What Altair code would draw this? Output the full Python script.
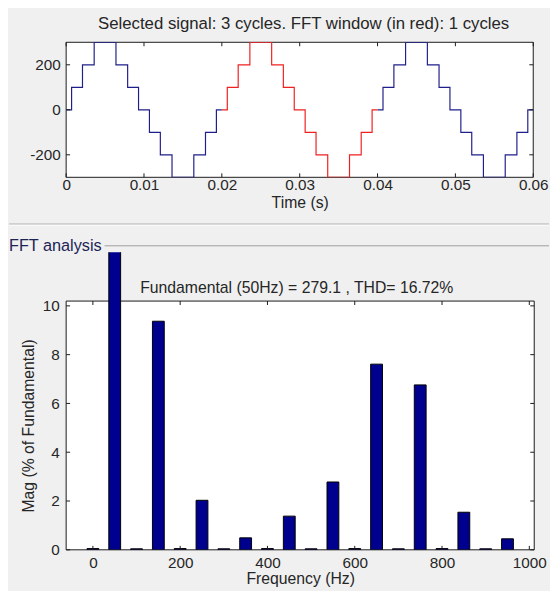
import altair as alt
import pandas as pd

# ---------------- data ----------------
# Staircase (7-level) voltage: switching instants (s) and the level held after each
switch_times = [0.0, 0.0007, 0.0021, 0.0036, 0.0064, 0.0079, 0.0093, 0.0107, 0.0121, 0.0136, 0.0164, 0.0179, 0.0193,
                0.0207, 0.0221, 0.0236, 0.0264, 0.0279, 0.0293, 0.0307, 0.0321, 0.0336, 0.0364, 0.0379, 0.0393,
                0.0407, 0.0421, 0.0436, 0.0464, 0.0479, 0.0493, 0.0507, 0.0521, 0.0536, 0.0564, 0.0579, 0.0593, 0.06]
levels = [0, 100, 200, 300, 200, 100, 0, -100, -200, -300, -200, -100, 0,
          100, 200, 300, 200, 100, 0, -100, -200, -300, -200, -100, 0,
          100, 200, 300, 200, 100, 0, -100, -200, -300, -200, -100, 0,
          0]
fft_start, fft_end = 0.02, 0.04

time_ticks = [0, 0.01, 0.02, 0.03, 0.04, 0.05, 0.06]
volt_ticks = [-200, 0, 200]

# FFT spectrum (% of fundamental)
freqs = [0, 50, 100, 150, 200, 250, 300, 350, 400, 450, 500, 550, 600, 650, 700, 750, 800, 850, 900, 950]
mags = [0.05, 100, 0.04, 9.37, 0.05, 2.03, 0.04, 0.49, 0.05, 1.38, 0.04, 2.78, 0.05, 7.61, 0.04, 6.76, 0.05, 1.54, 0.04, 0.45]
freq_ticks = [0, 200, 400, 600, 800, 1000]
mag_ticks = [0, 2, 4, 6, 8, 10]

title_top = "Selected signal: 3 cycles. FFT window (in red): 1 cycles"
title_fft = "Fundamental (50Hz) = 279.1 , THD= 16.72%"
panel_label = "FFT analysis"

# ---------------- styling ----------------
FONT = "Liberation Sans"
FS_LBL = 15.5
FS_TTL = 16
TXT = "#262626"
FRAME = "#1a1a1a"
BLUE = "#1f1f8c"
RED = "#f02020"
NAVY = "#00008f"
BG = "#f0f0f0"

W1, H1 = 474, 137
W2, H2 = 475, 302
Y2MAX = 12.2
FRAME_TOP = 49.6  # pixel offset of the axes box top inside the bottom panel

# ---------------- build waveform table ----------------
def held(t):
    lv = levels[0]
    for tt, l in zip(switch_times, levels):
        if tt <= t:
            lv = l
    return lv

rows = []
for t, v in zip(switch_times, levels):
    seg = "pre" if t < fft_start else ("win" if t < fft_end else "post")
    rows.append(dict(t=t, v=v, seg=seg))
for b, segs in [(fft_start, ("pre", "win")), (fft_end, ("win", "post"))]:
    for s in segs:
        rows.append(dict(t=b, v=held(b), seg=s))
wave_df = pd.DataFrame(rows).sort_values(["seg", "t"]).reset_index(drop=True)

one = pd.DataFrame({"k": [0]})

xs1 = alt.Scale(domain=[0, 0.06], nice=False, zero=False)
ys1 = alt.Scale(domain=[-300, 300], nice=False, zero=False)

frame1 = alt.Chart(one).mark_rect(fill="white", stroke=FRAME, strokeWidth=1).encode(
    x=alt.value(0), x2=alt.value(W1), y=alt.value(0), y2=alt.value(H1)
)

wave = alt.Chart(wave_df).mark_line(interpolate="step-after", strokeWidth=1.2, clip=True).encode(
    x=alt.X("t:Q", scale=xs1, axis=alt.Axis(
        values=time_ticks, title="Time (s)", labelFlush=False, labelOverlap=False,
        labelExpr="datum.value == 0 ? '0' : format(datum.value, '.2f')",
        labelPadding=0, titleY=25.5, titleBaseline="middle")),
    y=alt.Y("v:Q", scale=ys1, axis=alt.Axis(
        values=volt_ticks, title=None, labelExpr="'' + datum.value", labelPadding=6)),
    color=alt.Color("seg:N", scale=alt.Scale(domain=["pre", "win", "post"], range=[BLUE, RED, BLUE]), legend=None),
    detail="seg:N",
)

tx1 = pd.DataFrame({"t": time_ticks})
ty1 = pd.DataFrame({"v": volt_ticks})
tick_b1 = alt.Chart(tx1).mark_rule(color=FRAME).encode(x=alt.X("t:Q", scale=xs1), y=alt.value(H1), y2=alt.value(H1 - 4))
tick_t1 = alt.Chart(tx1).mark_rule(color=FRAME).encode(x=alt.X("t:Q", scale=xs1), y=alt.value(0), y2=alt.value(4))
tick_l1 = alt.Chart(ty1).mark_rule(color=FRAME).encode(y=alt.Y("v:Q", scale=ys1), x=alt.value(0), x2=alt.value(4))
tick_r1 = alt.Chart(ty1).mark_rule(color=FRAME).encode(y=alt.Y("v:Q", scale=ys1), x=alt.value(W1), x2=alt.value(W1 - 4))

ttl1 = alt.Chart(one).mark_text(text=title_top, font=FONT, fontSize=17, color=TXT, align="center", baseline="middle").encode(
    x=alt.value(W1 / 2 + 4), y=alt.value(-18)
)

top = alt.layer(frame1, wave, tick_b1, tick_t1, tick_l1, tick_r1, ttl1).properties(width=W1, height=H1)

# ---------------- bottom panel ----------------
fft_df = pd.DataFrame({"f": freqs, "m": mags})
xs2 = alt.Scale(domain=[-50, 1000], nice=False, zero=False)
ys2 = alt.Scale(domain=[0, Y2MAX], nice=False, zero=False)

frame2 = alt.Chart(one).mark_rect(fill="white", stroke=FRAME, strokeWidth=1).encode(
    x=alt.value(0), x2=alt.value(W2), y=alt.value(FRAME_TOP), y2=alt.value(H2)
)

bars = alt.Chart(fft_df).mark_bar(size=12, color=NAVY, stroke="black", strokeWidth=1, clip=True).encode(
    x=alt.X("f:Q", scale=xs2, axis=alt.Axis(
        values=freq_ticks, title="Frequency (Hz)", labelFlush=False, labelOverlap=False,
        labelExpr="'' + datum.value",
        labelPadding=6, titleY=29, titleBaseline="middle")),
    y=alt.Y("m:Q", scale=ys2, axis=alt.Axis(
        values=mag_ticks, title="Mag (% of Fundamental)", labelPadding=7,
        titleX=-38, titleY=(FRAME_TOP + H2) / 2, titleBaseline="middle", titleAlign="center")),
)

tx2 = pd.DataFrame({"f": freq_ticks})
ty2 = pd.DataFrame({"m": mag_ticks})
tick_b2 = alt.Chart(tx2).mark_rule(color=FRAME).encode(x=alt.X("f:Q", scale=xs2), y=alt.value(H2), y2=alt.value(H2 - 4))
tick_t2 = alt.Chart(tx2).mark_rule(color=FRAME).encode(x=alt.X("f:Q", scale=xs2), y=alt.value(FRAME_TOP), y2=alt.value(FRAME_TOP + 4))
tick_l2 = alt.Chart(ty2).mark_rule(color=FRAME).encode(y=alt.Y("m:Q", scale=ys2), x=alt.value(0), x2=alt.value(4))
tick_r2 = alt.Chart(ty2).mark_rule(color=FRAME).encode(y=alt.Y("m:Q", scale=ys2), x=alt.value(W2), x2=alt.value(W2 - 4))

ttl2 = alt.Chart(one).mark_text(text=title_fft, font=FONT, fontSize=FS_TTL, color=TXT, align="center", baseline="middle").encode(
    x=alt.value(234), y=alt.value(36)
)

panel_txt = alt.Chart(one).mark_text(text=panel_label, font=FONT, fontSize=16.5, color="#1c2456", align="left", baseline="middle").encode(
    x=alt.value(-58), y=alt.value(-6.5)
)
panel_line = alt.Chart(one).mark_rule(color="#a0a0a0", strokeWidth=1).encode(
    x=alt.value(39), x2=alt.value(490), y=alt.value(-6.5)
)
sep_dark = alt.Chart(one).mark_rule(color="#a0a0a0", strokeWidth=1).encode(
    x=alt.value(-58), x2=alt.value(490), y=alt.value(-28.5)
)
sep_light = alt.Chart(one).mark_rule(color="#ffffff", strokeWidth=1).encode(
    x=alt.value(-58), x2=alt.value(490), y=alt.value(-27.5)
)

bottom = alt.layer(sep_dark, sep_light, panel_line, panel_txt, frame2, bars,
                   tick_b2, tick_t2, tick_l2, tick_r2, ttl2).properties(width=W2, height=H2)

chart = alt.vconcat(top, bottom, spacing=76, bounds="flush").resolve_scale(
    x="independent", y="independent"
).properties(
    padding={"left": 0, "top": 3.5, "right": 0, "bottom": 0},
    background=BG,
).configure(font=FONT).configure_view(strokeWidth=0).configure_axis(
    domain=False, ticks=False, tickSize=0, grid=False,
    labelFont=FONT, labelFontSize=FS_LBL, labelColor=TXT,
    titleFont=FONT, titleFontSize=FS_TTL, titleFontWeight="normal", titleColor=TXT,
)

chart.save("out.html", embed_options={"renderer": "svg", "actions": False})
